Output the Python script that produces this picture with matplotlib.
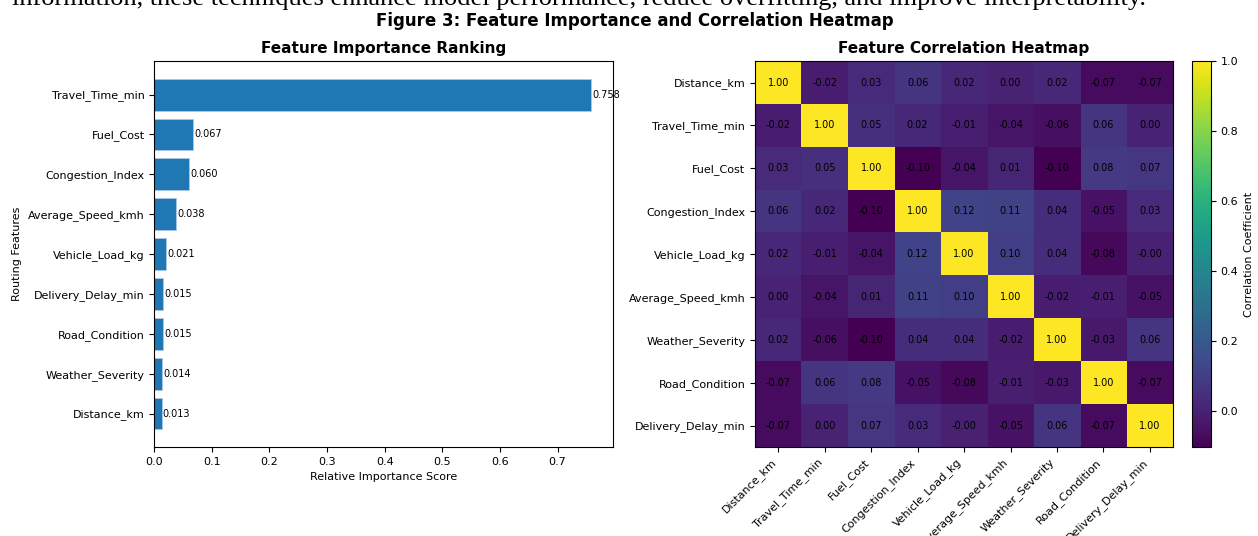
import matplotlib
matplotlib.use("Agg")
import matplotlib.pyplot as plt
import numpy as np

# feature importance (ascending order as drawn bottom -> top)
imp_features = ["Distance_km", "Weather_Severity", "Road_Condition", "Delivery_Delay_min",
                "Vehicle_Load_kg", "Average_Speed_kmh", "Congestion_Index", "Fuel_Cost",
                "Travel_Time_min"]
imp_values = [0.013, 0.014, 0.015, 0.015, 0.021, 0.038, 0.060, 0.067, 0.758]

# correlation matrix
corr_features = ["Distance_km", "Travel_Time_min", "Fuel_Cost", "Congestion_Index",
                 "Vehicle_Load_kg", "Average_Speed_kmh", "Weather_Severity",
                 "Road_Condition", "Delivery_Delay_min"]
row_distance = [1.00, -0.02, 0.03, 0.06, 0.02, 0.00, 0.02, -0.07, -0.07]
row_travel = [-0.02, 1.00, 0.05, 0.02, -0.01, -0.04, -0.06, 0.06, 0.00]
row_fuel = [0.03, 0.05, 1.00, -0.104, -0.04, 0.01, -0.10, 0.08, 0.07]
row_congestion = [0.06, 0.02, -0.104, 1.00, 0.12, 0.11, 0.04, -0.05, 0.03]
row_load = [0.02, -0.01, -0.04, 0.12, 1.00, 0.10, 0.04, -0.08, -0.004]
row_speed = [0.00, -0.04, 0.01, 0.11, 0.10, 1.00, -0.02, -0.01, -0.05]
row_weather = [0.02, -0.06, -0.10, 0.04, 0.04, -0.02, 1.00, -0.03, 0.06]
row_road = [-0.07, 0.06, 0.08, -0.05, -0.08, -0.01, -0.03, 1.00, -0.07]
row_delay = [-0.07, 0.00, 0.07, 0.03, -0.004, -0.05, 0.06, -0.07, 1.00]
corr = np.array([row_distance, row_travel, row_fuel, row_congestion, row_load,
                 row_speed, row_weather, row_road, row_delay])

fig = plt.figure(figsize=(12.58, 5.36), dpi=100)

# cut-off line of the surrounding document text
fig.text(0.0095, 0.9916, "information, these techniques enhance model performance, reduce overfitting, and improve interpretability.",
         family="Liberation Serif", fontsize=19, ha="left", va="baseline")

fig.suptitle("Figure 3: Feature Importance and Correlation Heatmap",
             fontsize=12, fontweight="bold", y=0.977, x=0.505)

bottom, top = 0.166, 0.886

# left: feature importance
ax1 = fig.add_axes([0.1226, bottom, 0.3645, top - bottom])
bars = ax1.barh(imp_features, imp_values, color="#1f77b4", edgecolor="#aec7e8",
                linewidth=0.6, height=0.8)
for b, v in zip(bars, imp_values):
    ax1.text(b.get_width() + 0.002, b.get_y() + b.get_height() / 2,
             f"{v:.3f}", va="center", ha="left", fontsize=7)
ax1.set_title("Feature Importance Ranking", fontsize=11, fontweight="bold")
ax1.set_xlabel("Relative Importance Score", fontsize=8)
ax1.set_ylabel("Routing Features", fontsize=8)
ax1.tick_params(labelsize=8)

# right: correlation heatmap
ax2 = fig.add_axes([0.6002, bottom, 0.3323, top - bottom])
im = ax2.imshow(corr, cmap="viridis", aspect="auto")
n = len(corr_features)
for i in range(n):
    for j in range(n):
        ax2.text(j, i, f"{corr[i, j]:.2f}", ha="center", va="center",
                 fontsize=7, color="black")
ax2.set_xticks(range(n))
ax2.set_yticks(range(n))
ax2.set_xticklabels(corr_features, rotation=45, ha="right", fontsize=8)
ax2.set_yticklabels(corr_features, fontsize=8)
ax2.set_title("Feature Correlation Heatmap", fontsize=11, fontweight="bold")

cax = fig.add_axes([0.9475, bottom, 0.0151, top - bottom])
cb = fig.colorbar(im, cax=cax)
cb.set_label("Correlation Coefficient", fontsize=8)
cb.ax.tick_params(labelsize=8)

fig.savefig("out.png", dpi=100)
